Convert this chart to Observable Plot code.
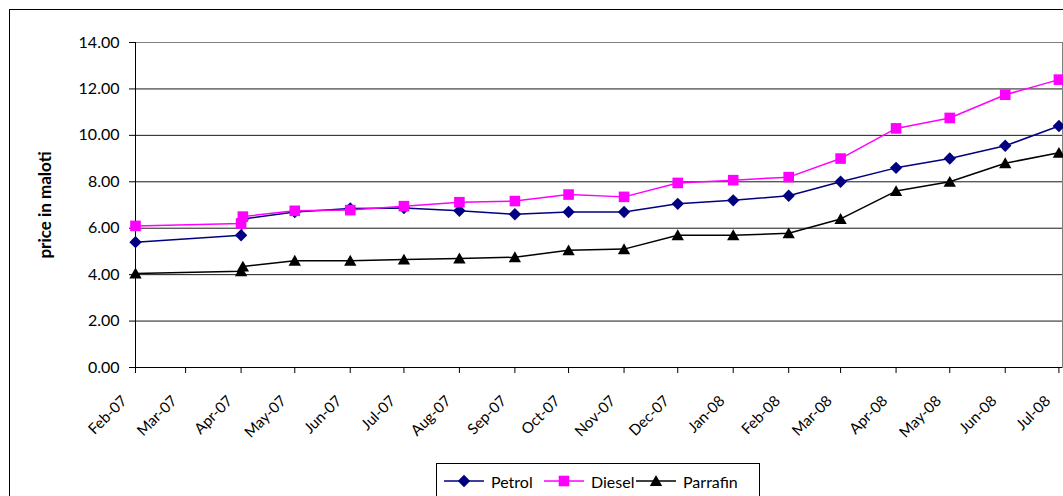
<!DOCTYPE html>
<html>
<head>
<meta charset="utf-8">
<script src="https://cdn.jsdelivr.net/npm/d3@7"></script>
<script src="https://cdn.jsdelivr.net/npm/@observablehq/plot@0.6"></script>
<style>
  html, body { margin: 0; padding: 0; background: #fff; }
  #wrap { position: relative; width: 1063px; height: 496px; overflow: hidden; font-family: Lato, "Open Sans", sans-serif; }
  #frame { position: absolute; left: 9px; top: 9px; width: 1200px; height: 700px; border: 1px solid #000; }
  #chart { position: absolute; left: 0; top: 0; }
  #legend { position: absolute; left: 436px; top: 463px; width: 322px; height: 60px; border: 1px solid #000; background: #fff;
            font-size: 16px; color: #000; }
  #legend .item { position: absolute; top: 7px; height: 20px; display: flex; align-items: center; }
  #legend svg { margin-right: 6px; }
</style>
</head>
<body>
<div id="wrap">
  <div id="frame"></div>
  <div id="chart"></div>
  <div id="legend"></div>
</div>
<script>
// ---- data ----
const dates = ["2007-02-01","2007-04-01","2007-04-02","2007-05-01","2007-06-01","2007-07-01","2007-08-01","2007-09-01","2007-10-01","2007-11-01","2007-12-01","2008-01-01","2008-02-01","2008-03-01","2008-04-01","2008-05-01","2008-06-01","2008-07-01"];
const petrol   = [5.40,5.70,6.40,6.70,6.85,6.87,6.75,6.60,6.70,6.70,7.05,7.20,7.40,8.00,8.60,9.00,9.55,10.40];
const diesel   = [6.10,6.20,6.50,6.75,6.78,6.95,7.12,7.17,7.45,7.35,7.95,8.07,8.20,9.00,10.30,10.75,11.75,12.40];
const parrafin = [4.05,4.15,4.35,4.60,4.60,4.65,4.70,4.75,5.05,5.10,5.70,5.70,5.78,6.40,7.60,8.00,8.80,9.25];
const seriesNames = ["Petrol","Diesel","Parrafin"];
const xTickLabels = ["Feb-07","Mar-07","Apr-07","May-07","Jun-07","Jul-07","Aug-07","Sep-07","Oct-07","Nov-07","Dec-07","Jan-08","Feb-08","Mar-08","Apr-08","May-08","Jun-08","Jul-08"];
const yTicks = [0,2,4,6,8,10,12,14];
const xDomain = ["2007-02-01","2008-07-03"];
const yLabel = "price in maloti";

// ---- build ----
const parse = d3.utcParse("%Y-%m-%d");
const tickParse = d3.utcParse("%b-%y");
const tickDates = xTickLabels.map(tickParse);
const labelByTime = new Map(tickDates.map((d, i) => [+d, xTickLabels[i]]));
const valuesBySeries = {Petrol: petrol, Diesel: diesel, Parrafin: parrafin};
const data = seriesNames.map(name => dates.map((d, i) => ({series: name, date: parse(d), value: valuesBySeries[name][i]})));

const symDiamond = {draw(ctx, size) { const r = Math.sqrt(size / Math.PI); ctx.moveTo(0, -r); ctx.lineTo(r, 0); ctx.lineTo(0, r); ctx.lineTo(-r, 0); ctx.closePath(); }};
const symSquare = {draw(ctx, size) { const r = Math.sqrt(size / Math.PI); ctx.rect(-r, -r, 2 * r, 2 * r); }};
const symTriangle = {draw(ctx, size) { const r = Math.sqrt(size / Math.PI); ctx.moveTo(0, -r * 1.05); ctx.lineTo(r * 1.1, r * 0.9); ctx.lineTo(-r * 1.1, r * 0.9); ctx.closePath(); }};
const styles = {
  Petrol:   {color: "#000080", symbol: symDiamond, r: 6.2},
  Diesel:   {color: "#FF00FF", symbol: symSquare, r: 5.3},
  Parrafin: {color: "#000000", symbol: symTriangle, r: 5.6}
};

const seriesMarks = data.flatMap((rows, k) => {
  const s = styles[seriesNames[k]];
  return [
    Plot.line(rows, {x: "date", y: "value", stroke: s.color, strokeWidth: 1.5}),
    Plot.dot(rows, {x: "date", y: "value", fill: s.color, stroke: "none", symbol: () => s.symbol, r: s.r})
  ];
});

const chart = Plot.plot({
  width: 1063,
  height: 496,
  marginLeft: 135,
  marginRight: 1,
  marginTop: 42,
  marginBottom: 129,
  style: {fontFamily: "Lato, 'Open Sans', sans-serif", fontSize: "14px", color: "#000", background: "transparent"},
  x: {type: "utc", domain: xDomain.map(parse)},
  y: {domain: [0, 14]},
  symbol: {type: "identity"},
  marks: [
    Plot.ruleY(yTicks.filter(v => v > 0), {stroke: "#1a1a1a", strokeWidth: 1}),
    Plot.frame({stroke: "#808080"}),
    Plot.axisY({ticks: yTicks, tickFormat: d => d.toFixed(2), tickSize: 6, tickPadding: 10, fontSize: 16, label: null}),
    Plot.text([yLabel], {text: d => d, frameAnchor: "left", textAnchor: "middle", lineAnchor: "middle", rotate: -90, dx: -90,
                         fontSize: 17, fontWeight: "bold", fill: "#000"}),
    // tick marks only
    Plot.axisX({ticks: tickDates, tickFormat: () => "", tickSize: 6, label: null}),
    // rotated labels only
    Plot.axisX({ticks: tickDates, tickFormat: d => labelByTime.get(+d), tickSize: 0, tickRotate: -45, tickPadding: 14,
                dx: -11, dy: 17, fontSize: 15, label: null}),
    Plot.ruleX([parse(xDomain[0])], {stroke: "#000"}),
    Plot.ruleY([0], {stroke: "#000"}),
    ...seriesMarks
  ]
});
document.getElementById("chart").appendChild(chart);

// ---- legend ----
const legend = document.getElementById("legend");
const legendX = [6, 106, 198];
seriesNames.forEach((name, i) => {
  const s = styles[name];
  const item = document.createElement("div");
  item.className = "item";
  item.style.left = legendX[i] + "px";
  const path = d3.path();
  s.symbol.draw(path, Math.PI * s.r * s.r);
  item.innerHTML = `<svg width="42" height="16" viewBox="-21 -8 42 16"><line x1="-20" x2="20" y1="0" y2="0" stroke="${s.color}" stroke-width="1.5"/><path d="${path}" fill="${s.color}"/></svg><span>${name}</span>`;
  legend.appendChild(item);
});
</script>
</body>
</html>
